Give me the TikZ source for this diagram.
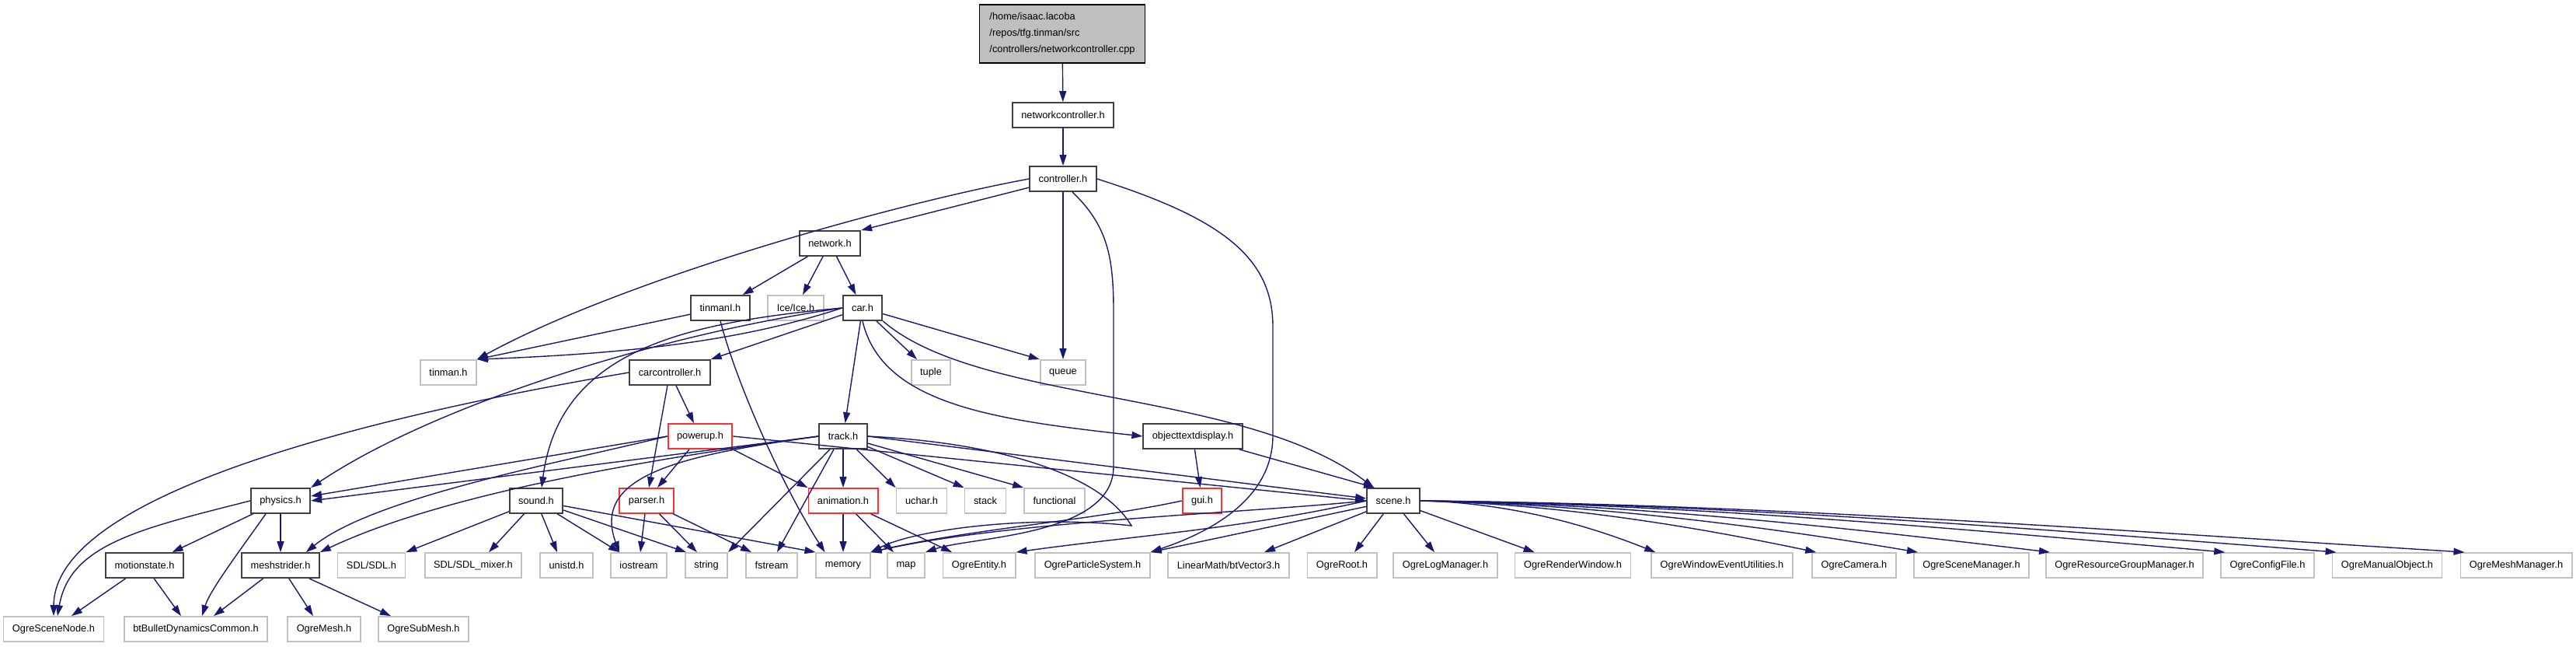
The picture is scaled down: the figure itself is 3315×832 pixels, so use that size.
\documentclass[tikz,border=0pt]{standalone}
\usepackage{fontspec}
\setmainfont{Liberation Sans}
\usetikzlibrary{arrows.meta}
\definecolor{edgeblue}{HTML}{191970}
\definecolor{hdgray}{HTML}{404040}
\definecolor{sysgray}{HTML}{C0C0C0}
\definecolor{trred}{HTML}{FF3030}
\definecolor{srcfill}{HTML}{BFBFBF}

\begin{document}
\begin{tikzpicture}[x=1pt,y=-1pt,>={Triangle[length=14pt,width=9pt]},
 hd/.style={draw=hdgray,line width=1.8pt,minimum height=32pt,inner xsep=11.5pt,inner ysep=0pt,font=\fontsize{12.8}{21}\selectfont},
 sys/.style={hd,draw=sysgray},
 tr/.style={hd,draw=trred},
 dep/.style={->,draw=edgeblue,line width=1.4pt}]
\useasboundingbox (0,0) rectangle (3315,832);
% Source file and project headers.
\node[hd,draw=black,fill=srcfill,align=left,minimum width=213pt,minimum height=75pt,inner xsep=10pt] (src) at (1367,43.5) {/home/isaac.lacoba\\/repos/tfg.tinman/src\\/controllers/networkcontroller.cpp};
\node[hd] (nctrl) at (1368,148) {networkcontroller.h};
\node[hd] (ctrl) at (1368,230) {controller.h};
\node[hd] (net) at (1068,313) {network.h};
\node[hd] (tinmanl) at (927,396) {tinmanI.h};
\node[sys] (ice) at (1024,396) {Ice/Ice.h};
\node[hd] (car) at (1110,396) {car.h};
\node[sys] (tinman) at (577,479) {tinman.h};
\node[hd] (carctrl) at (862,479) {carcontroller.h};
\node[sys] (tuple) at (1198,479) {tuple};
\node[sys] (queue) at (1368,479) {queue};
\node[tr] (powerup) at (901,561) {powerup.h};
\node[hd] (track) at (1085,561) {track.h};
\node[hd] (otd) at (1535,561) {objecttextdisplay.h};
\node[hd] (physics) at (361,644) {physics.h};
\node[hd] (sound) at (690,644) {sound.h};
\node[tr] (parser) at (832,644) {parser.h};
\node[tr] (anim) at (1085,644) {animation.h};
\node[sys] (uchar) at (1186,644) {uchar.h};
\node[sys] (stack) at (1268,644) {stack};
\node[sys] (func) at (1357,644) {functional};
\node[tr] (gui) at (1547,644) {gui.h};
\node[hd] (scene) at (1793,644) {scene.h};
% Row of included headers.
\node[hd] (motion) at (186,727) {motionstate.h};
\node[hd] (mesh) at (361,727) {meshstrider.h};
\node[sys] (sdl) at (478,727) {SDL/SDL.h};
\node[sys] (sdlmix) at (609,727) {SDL/SDL\_mixer.h};
\node[sys] (unistd) at (729,727) {unistd.h};
\node[sys] (iostream) at (822,727) {iostream};
\node[sys] (string) at (909,727) {string};
\node[sys] (fstream) at (993,727) {fstream};
\node[sys] (memory) at (1085,727) {memory};
\node[sys] (map) at (1166,727) {map};
\node[sys] (entity) at (1260,727) {OgreEntity.h};
\node[sys] (psys) at (1406,727) {OgreParticleSystem.h};
\node[sys] (btvec) at (1581,727) {LinearMath/btVector3.h};
\node[sys] (root) at (1727,727) {OgreRoot.h};
\node[sys] (logmgr) at (1860,727) {OgreLogManager.h};
\node[sys] (rwin) at (2024,727) {OgreRenderWindow.h};
\node[sys] (weu) at (2216,727) {OgreWindowEventUtilities.h};
\node[sys] (camera) at (2386,727) {OgreCamera.h};
\node[sys] (smgr) at (2537,727) {OgreSceneManager.h};
\node[sys] (rgm) at (2734,727) {OgreResourceGroupManager.h};
\node[sys] (cfg) at (2918,727) {OgreConfigFile.h};
\node[sys] (manual) at (3072,727) {OgreManualObject.h};
\node[sys] (meshmgr) at (3238,727) {OgreMeshManager.h};
\node[sys] (scenenode) at (69,809) {OgreSceneNode.h};
\node[sys] (bullet) at (252,809) {btBulletDynamicsCommon.h};
\node[sys] (ogremesh) at (417,809) {OgreMesh.h};
\node[sys] (submesh) at (545,809) {OgreSubMesh.h};
% Top of the graph.
\draw[dep] (src) -- (nctrl);
\draw[dep] (nctrl) -- (ctrl);
% controller.h
\draw[dep] (ctrl.west) .. controls (1150,262) and (800,360) .. (tinman.north east);
\draw[dep] (ctrl) -- (net.north east);
\draw[dep] (ctrl) -- (queue);
\draw[dep] ([xshift=12pt]ctrl.south) .. controls (1425,290) and (1433,330) .. (1433,400) -- (1433,600) .. controls (1433,690) and (1250,690) .. (map.north east);
\draw[dep] (ctrl.east) .. controls (1570,280) and (1638,330) .. (1638,420) -- (1638,560) .. controls (1638,650) and (1540,690) .. (psys.north east);
% network.h, tinmanI.h
\draw[dep] (net) -- (tinmanl);
\draw[dep] (net) -- (ice);
\draw[dep] (net) -- (car);
\draw[dep] (tinmanl) -- (tinman.north east);
\draw[dep] (tinmanl.south) .. controls (950,500) and (1010,630) .. ([xshift=12pt]memory.north west);
% car.h
\draw[dep] (car.west) .. controls (950,440) and (800,455) .. (tinman.north east);
\draw[dep] (car.west) .. controls (850,430) and (560,520) .. (physics.north east);
\draw[dep] (car.west) .. controls (880,415) and (720,450) .. ([xshift=7pt]sound.north);
\draw[dep] (car) -- (carctrl.north east);
\draw[dep] (car) -- (tuple);
\draw[dep] (car) -- (queue.north west);
\draw[dep] (car) -- (track);
\draw[dep] (car.south) .. controls (1135,520) and (1280,540) .. (otd.west);
\draw[dep] (car.south east) .. controls (1260,520) and (1600,500) .. ([xshift=-25pt]scene.north);
% carcontroller.h, powerup.h
\draw[dep] (carctrl.west) .. controls (450,540) and (70,640) .. (scenenode.north);
\draw[dep] (carctrl) -- (powerup);
\draw[dep] (carctrl) -- (parser);
\draw[dep] (powerup.west) -- ([yshift=6pt]physics.east);
\draw[dep] (powerup.west) .. controls (720,595) and (480,640) .. ([xshift=-18pt]mesh.north east);
\draw[dep] (powerup) -- (parser);
\draw[dep] (powerup.south east) -- (anim.north west);
\draw[dep] (powerup.east) -- (scene.west);
% track.h
\draw[dep] (track.west) -- (physics.east);
\draw[dep] (track.west) .. controls (800,595) and (560,640) .. (mesh.north east);
\draw[dep] (track.west) .. controls (880,585) and (760,610) .. ([xshift=-25pt]iostream.north);
\draw[dep] ([xshift=-17pt]track.south) -- (string.north east);
\draw[dep] ([xshift=-12pt]track.south) -- ([xshift=7pt]fstream.north);
\draw[dep] (track) -- (anim);
\draw[dep] (track) -- (uchar.north west);
\draw[dep] (track) -- (stack.north west);
\draw[dep] (track) -- (func.north west);
\draw[dep] (track.east) -- ([yshift=3pt]scene.west);
\draw[dep] (track.east) .. controls (1300,570) and (1420,615) .. (1456,676) .. controls (1330,662) and (1180,680) .. (memory.north east);
% physics.h, motionstate.h, meshstrider.h
\draw[dep] (physics.west) .. controls (180,680) and (90,700) .. ([xshift=5pt]scenenode.north);
\draw[dep] (physics) -- (motion);
\draw[dep] (physics) -- (mesh);
\draw[dep] ([xshift=-19pt]physics.south) .. controls (300,720) and (270,760) .. ([xshift=8pt]bullet.north);
\draw[dep] (motion) -- ([xshift=23pt]scenenode.north);
\draw[dep] (motion) -- ([xshift=-19pt]bullet.north);
\draw[dep] (mesh) -- ([xshift=23pt]bullet.north);
\draw[dep] (mesh) -- ([xshift=-14pt]ogremesh.north);
\draw[dep] (mesh) -- ([xshift=17pt]submesh.north west);
% sound.h, parser.h, animation.h
\draw[dep] (sound) -- (sdl.north east);
\draw[dep] (sound) -- ([xshift=20pt]sdlmix.north);
\draw[dep] (sound) -- ([xshift=-12pt]unistd.north);
\draw[dep] (sound) -- ([xshift=-25pt]iostream.north);
\draw[dep] (sound) -- ([xshift=-26pt]string.north);
\draw[dep] (sound) -- (memory.north west);
\draw[dep] (parser) -- (iostream);
\draw[dep] (parser) -- ([xshift=-12pt]string.north);
\draw[dep] (parser) -- ([xshift=-26pt]fstream.north);
\draw[dep] (anim) -- (memory);
\draw[dep] (anim) -- ([xshift=-16pt]map.north);
\draw[dep] (anim) -- ([xshift=-35pt]entity.north);
% objecttextdisplay.h, gui.h
\draw[dep] (otd) -- (gui);
\draw[dep] (otd) -- ([xshift=-24pt]scene.north);
\draw[dep] (gui.west) .. controls (1400,670) and (1250,680) .. (memory.north east);
% scene.h
\draw[dep] (scene.west) .. controls (1600,660) and (1300,670) .. (memory.north east);
\draw[dep] (scene.west) .. controls (1600,680) and (1450,690) .. (entity.north east);
\draw[dep] (scene) -- (psys.north east);
\draw[dep] (scene) -- ([xshift=46pt]btvec.north);
\draw[dep] (scene) -- ([xshift=16pt]root.north);
\draw[dep] (scene) -- ([xshift=-14pt]logmgr.north);
\draw[dep] (scene) -- ([xshift=26pt]rwin.north west);
\draw[dep] (scene.east) .. controls (1930,646) and (2030,670) .. ([xshift=6pt]weu.north west);
\draw[dep] (scene.east) .. controls (2000,648) and (2170,675) .. ([xshift=6pt]camera.north west);
\draw[dep] (scene.east) .. controls (2040,648) and (2260,675) .. ([xshift=6pt]smgr.north west);
\draw[dep] (scene.east) .. controls (2100,648) and (2370,678) .. ([xshift=6pt]rgm.north west);
\draw[dep] (scene.east) .. controls (2170,648) and (2520,680) .. ([xshift=6pt]cfg.north west);
\draw[dep] (scene.east) .. controls (2220,648) and (2620,680) .. ([xshift=6pt]manual.north west);
\draw[dep] (scene.east) .. controls (2270,648) and (2720,682) .. ([xshift=6pt]meshmgr.north west);
\end{tikzpicture}
\end{document}
